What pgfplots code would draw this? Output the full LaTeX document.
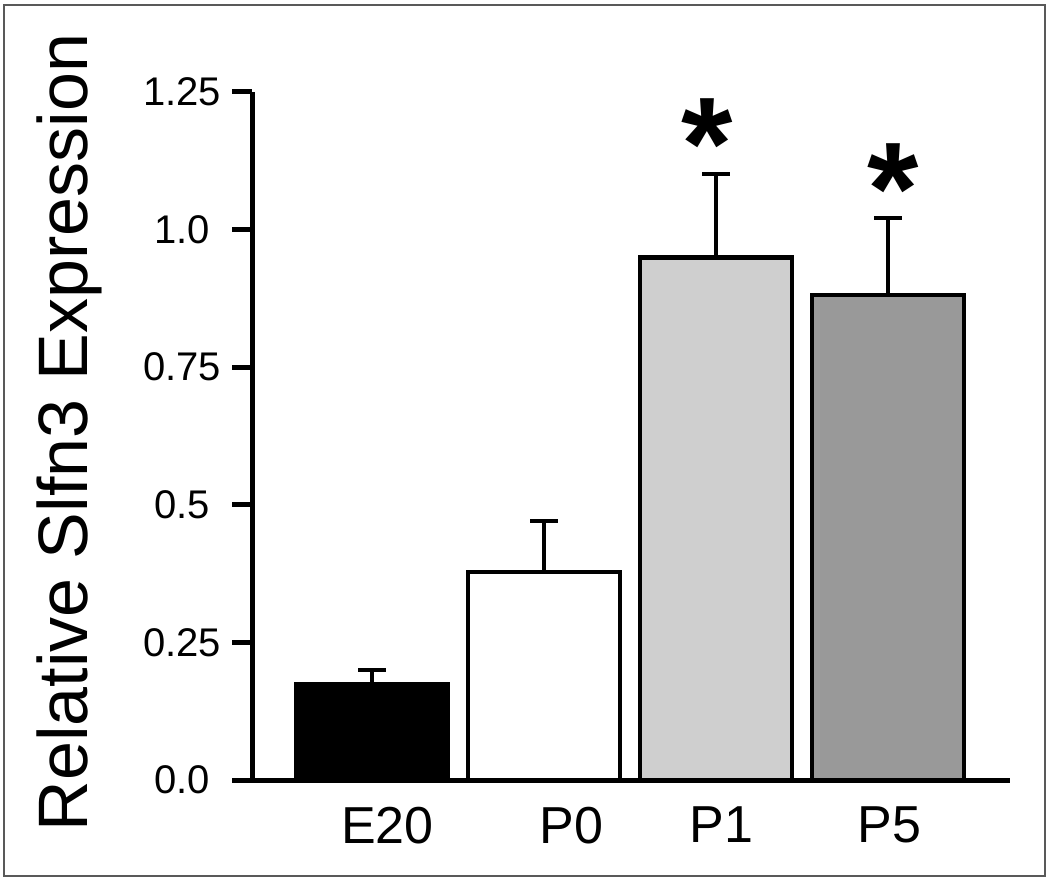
\documentclass[border=0pt]{standalone}
\usepackage{fontspec}
\setmainfont{Liberation Sans}
\usepackage{pgfplots}
\pgfplotsset{compat=1.18}
\definecolor{pone}{gray}{0.81}
\definecolor{pfive}{gray}{0.60}
\definecolor{framegray}{gray}{0.35}
\begin{document}
\begin{tikzpicture}
\useasboundingbox (0,0) rectangle (525pt,440pt);
\draw[framegray, line width=1.1pt] (2pt,2pt) rectangle (522.5pt,437.5pt);
\begin{axis}[
  at={(126pt,50pt)}, anchor=south west,
  scale only axis, width=379pt, height=344pt,
  xmin=-0.698, xmax=3.709, ymin=0, ymax=1.25,
  axis x line=bottom, axis y line=left,
  axis line style={line width=2.5pt, black, -},
  every outer x axis line/.append style={-},
  every outer y axis line/.append style={-},
  ytick={0,0.25,0.5,0.75,1,1.25},
  yticklabels={0.0,0.25,0.5,0.75,1.0,1.25},
  ytick align=outside, major tick length=10pt,
  ytick style={line width=2.5pt, black},
  xtick={0.09,1.16,2.03,3.01},
  xticklabels={E20,P0,P1,P5},
  xtick style={draw=none},
  x tick label style={font=\fontsize{26}{30}\selectfont},
  y tick label style={font=\fontsize{20}{24}\selectfont, anchor=center, xshift=-25pt},
  ylabel={Relative Slfn3 Expression},
  every axis y label/.style={at={(rel axis cs:-0.2164,0.505)}, rotate=90, anchor=base, font=\fontsize{35}{40}\selectfont},
  ybar, bar width=76pt, bar shift=0pt,
  clip=false,
]
\addplot[fill=black, draw=black, line width=2.4pt,
  error bars/.cd, y dir=plus, y explicit,
  error bar style={line width=2.2pt, black},
  error mark options={rotate=90, mark size=7pt, line width=2.2pt, black}]
  coordinates {(0,0.173) +- (0,0.027)};
\addplot[fill=white, draw=black, line width=2.4pt,
  error bars/.cd, y dir=plus, y explicit,
  error bar style={line width=2.2pt, black},
  error mark options={rotate=90, mark size=7pt, line width=2.2pt, black}]
  coordinates {(1,0.378) +- (0,0.093)};
\addplot[fill=pone, draw=black, line width=2.4pt,
  error bars/.cd, y dir=plus, y explicit,
  error bar style={line width=2.2pt, black},
  error mark options={rotate=90, mark size=7pt, line width=2.2pt, black}]
  coordinates {(2,0.950) +- (0,0.151)};
\addplot[fill=pfive, draw=black, line width=2.4pt,
  error bars/.cd, y dir=plus, y explicit,
  error bar style={line width=2.2pt, black},
  error mark options={rotate=90, mark size=7pt, line width=2.2pt, black}]
  coordinates {(3,0.881) +- (0,0.140)};
\node[font=\fontsize{66}{66}\selectfont\bfseries, inner sep=0pt, yshift=-8.2pt] at (axis cs:1.948,1.186) {*};
\node[font=\fontsize{66}{66}\selectfont\bfseries, inner sep=0pt, yshift=-8.2pt] at (axis cs:3.03,1.103) {*};
\end{axis}
\end{tikzpicture}
\end{document}
